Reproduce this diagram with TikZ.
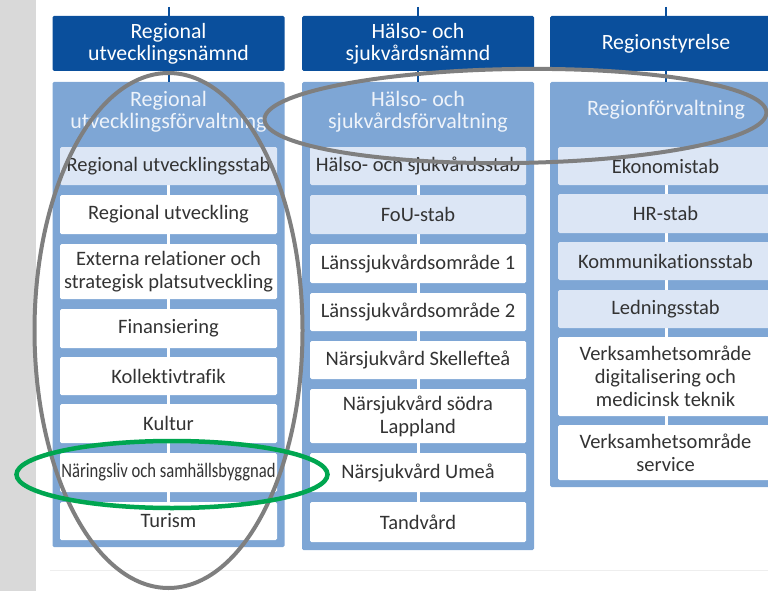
\documentclass[tikz,border=0pt]{standalone}
\usepackage{fontspec}
\setmainfont{Carlito}[Ligatures=NoCommon]
\usepackage{graphicx}
\definecolor{hdrblue}{HTML}{0A4F9C}
\definecolor{contblue}{HTML}{7EA6D5}
\definecolor{stabfill}{HTML}{DCE6F5}
\definecolor{titletext}{HTML}{EEF3FA}
\definecolor{itemtext}{HTML}{333333}
\definecolor{barGrey}{HTML}{D9D9D9}
\definecolor{ellGrey}{HTML}{7F7F7F}
\definecolor{ellGreen}{HTML}{00A650}
\definecolor{faint}{HTML}{EEEEEE}
\begin{document}
\begin{tikzpicture}[x=1pt,y=-1pt,
  hdr/.style={fill=hdrblue, text=white, rounded corners=1.5pt, align=center,
    font=\fontsize{21.8}{22}\selectfont, inner sep=0pt, minimum height=55pt},
  cont/.style={fill=contblue, rounded corners=1.5pt, inner sep=0pt},
  ctitle/.style={text=titletext, align=center, font=\fontsize{22}{22}\selectfont, inner sep=0pt},
  item/.style={fill=white, rounded corners=1.5pt, align=center, text=itemtext,
    font=\fontsize{20.5}{23}\selectfont, inner sep=0pt},
  stab/.style={item, fill=stabfill},
  w1/.style={minimum width=217pt},
  w2/.style={minimum width=216pt},
  w3/.style={minimum width=215pt},
  vline/.style={draw=hdrblue, line width=2pt},
  wline/.style={draw=white, line width=3pt},
  ring/.style={draw=ellGrey, line width=4pt},
  greenring/.style={draw=ellGreen, line width=4.5pt}
  ]
\useasboundingbox (0,0) rectangle (768,591);
% background
\fill[barGrey] (0,0) rectangle (36,591);
\coordinate (bl) at (50,570);
\coordinate (br) at (768,570);
\draw[faint, line width=1pt] (bl) -- (br);

% containers
\node[cont, minimum width=232pt, minimum height=465pt] (k1) at (168.5,314.5) {};
\node[cont, minimum width=232pt, minimum height=468pt] (k2) at (418,316) {};
\node[cont, minimum width=232pt, minimum height=405pt] (k3) at (666,284.5) {};

% top connectors
\coordinate (t1) at (168.5,7);
\coordinate (t2) at (418,7);
\coordinate (t3) at (666,7);
\draw[vline] (t1) -- (k1.north);
\draw[vline] (t2) -- (k2.north);
\draw[vline] (t3) -- (k3.north);

% headers
\node[hdr, minimum width=232pt] (h1) at (168.5,43.5) {Regional\\utvecklingsnämnd};
\node[hdr, minimum width=232pt] (h2) at (418,43.5) {Hälso- och\\sjukvårdsnämnd};
\node[hdr, minimum width=232pt] (h3) at (666,43.5) {Regionstyrelse};

% container titles
\node[ctitle] (ct1) at (168.5,112) {Regional\\utvecklingsförvaltning};
\node[ctitle] (ct2) at (418,112) {Hälso- och\\sjukvårdsförvaltning};
\node[ctitle] (ct3) at (666,110) {Regionförvaltning};

% coordinates for white lines
\coordinate (s1) at (168.5,166);
\coordinate (e1) at (168.5,521);
\coordinate (s2) at (418,166);
\coordinate (e2) at (418,522);
\coordinate (s3) at (666,166);
\coordinate (e3) at (666,452);
\draw[wline] (s1) -- (e1);
\draw[wline] (s2) -- (e2);
\draw[wline] (s3) -- (e3);

% column 1 items
\node[stab, w1, minimum height=38pt] (c1a) at (168.5,166) {Regional utvecklingsstab};
\node[item, w1, minimum height=39pt] (c1b) at (168.5,214.5) {Regional utveckling};
\node[item, w1, minimum height=55pt] (c1c) at (168.5,271.5) {Externa relationer och\\strategisk platsutveckling};
\node[item, w1, minimum height=39pt] (c1d) at (168.5,328.5) {Finansiering};
\node[item, w1, minimum height=38pt] (c1e) at (168.5,376) {Kollektivtrafik};
\node[item, w1, minimum height=39pt] (c1f) at (168.5,423.5) {Kultur};
\node[item, w1, minimum height=39pt] (c1g) at (168.5,472.5) {\scalebox{0.81}[1]{Näringsliv och samhällsbyggnad}};
\node[item, w1, minimum height=38pt] (c1h) at (168.5,521) {Turism};

% column 2 items
\node[stab, w2, minimum height=38pt] (c2a) at (418,166) {Hälso- och sjukvårdsstab};
\node[stab, w2, minimum height=39pt] (c2b) at (418,214.5) {FoU-stab};
\node[item, w2, minimum height=39pt] (c2c) at (418,263.5) {Länssjukvårdsområde 1};
\node[item, w2, minimum height=38pt] (c2d) at (418,312) {Länssjukvårdsområde 2};
\node[item, w2, minimum height=38pt] (c2e) at (418,360) {Närsjukvård Skellefteå};
\node[item, w2, minimum height=54pt] (c2f) at (418,416) {Närsjukvård södra\\Lappland};
\node[item, w2, minimum height=39pt] (c2g) at (418,472.5) {Närsjukvård Umeå};
\node[item, w2, minimum height=40pt] (c2h) at (418,522) {Tandvård};

% column 3 items
\node[stab, w3, minimum height=38pt] (c3a) at (665.5,166) {Ekonomistab};
\node[stab, w3, minimum height=39pt] (c3b) at (665.5,213.5) {HR-stab};
\node[stab, w3, minimum height=38pt] (c3c) at (665.5,261) {Kommunikationsstab};
\node[stab, w3, minimum height=38pt] (c3d) at (665.5,309) {Ledningsstab};
\node[item, w3, minimum height=79pt] (c3e) at (665.5,376.5) {Verksamhetsområde\\digitalisering och\\medicinsk teknik};
\node[item, w3, minimum height=55pt] (c3f) at (665.5,452.5) {Verksamhetsområde\\service};

% highlight ellipses
\draw[ring] (168.5,330.5) ellipse [x radius=134, y radius=257.5];
\draw[ring, rotate around={0.8:(515.5,116)}] (515.5,116) ellipse [x radius=251, y radius=47];
\draw[greenring] (172,474.5) ellipse [x radius=155.5, y radius=33.5];
\end{tikzpicture}
\end{document}
